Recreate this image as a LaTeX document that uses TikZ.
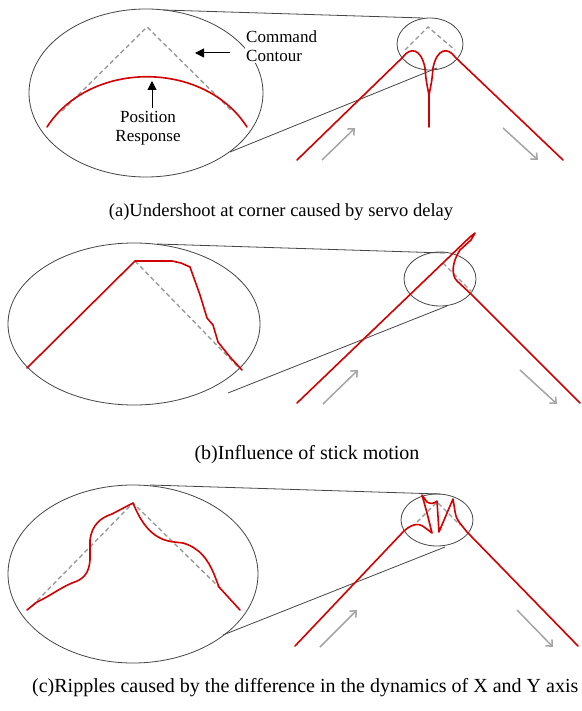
\documentclass[tikz,border=0pt]{standalone}
\usepackage{fontspec}
\setmainfont{Liberation Serif}
\usetikzlibrary{arrows.meta}
\definecolor{redc}{RGB}{210,0,0}
\definecolor{ellc}{RGB}{70,70,70}
\definecolor{dashc}{RGB}{155,155,155}
\definecolor{arrc}{RGB}{165,165,165}
\tikzset{
  resp/.style={draw=redc, line width=1.6pt, line join=round, line cap=round},
  cmd/.style={draw=dashc, line width=1.4pt, dash pattern=on 4.5pt off 3pt},
  lens/.style={draw=ellc, line width=0.8pt},
  conn/.style={draw=ellc, line width=0.8pt},
  dirarrow/.style={draw=arrc, line width=1.5pt, -{Straight Barb[length=5pt,width=9pt]}},
  labarrow/.style={draw=black, line width=1pt, -{Triangle[length=9pt,width=9pt]}},
  lab/.style={font=\fontsize{17}{19}\selectfont, align=left, inner sep=1pt},
  captext/.style={font=\fontsize{18.5}{21}\selectfont, inner sep=0pt},
  captextb/.style={font=\fontsize{20}{22}\selectfont, inner sep=0pt}
}
\begin{document}
\begin{tikzpicture}[x=1pt,y=-1pt]
\useasboundingbox[fill=white] (0,0) rectangle (581,711);

% ================= (a) =================
\draw[lens] (146,93) ellipse [x radius=117, y radius=84];
\draw[lens] (430,44) ellipse [x radius=33, y radius=26];
\coordinate (aBT) at (163,10);
\coordinate (aST) at (423,18);
\coordinate (aBB) at (230,152);
\coordinate (aSB) at (437,68);
\draw[conn] (aBT) -- (aST);
\draw[conn] (aBB) -- (aSB);
% magnified
\draw[cmd] (62,111) -- (147,27) -- (232,111);
\draw[resp] (47,127) .. controls (90,60) and (204,60) .. (247,127);
% small
\draw[cmd] (405,50) -- (428,27) -- (455,50);
\draw[resp] (297,160) -- (403,57) .. controls (410,47) and (421,48) .. (425,68)
  .. controls (426,80) .. (429,95) -- (429,127);
\draw[resp] (429,95) .. controls (432,80) .. (433,68)
  .. controls (437,48) and (448,47) .. (455,57) -- (563,160);
\coordinate (aL1) at (322,160); \coordinate (aL2) at (355,128);
\coordinate (aR1) at (503,128); \coordinate (aR2) at (538,160);
\draw[dirarrow] (aL1) -- (aL2);
\draw[dirarrow] (aR1) -- (aR2);
% labels
\node[lab, fill=white, anchor=north west] (cmdlab) at (245,30) {Command\\Contour};
\coordinate (ca1) at (230,53); \coordinate (ca2) at (195,53);
\draw[labarrow] (ca1) -- (ca2);
\node[lab, align=center] (poslab) at (148,128) {Position\\Response};
\coordinate (pa1) at (152,108); \coordinate (pa2) at (152,81);
\draw[labarrow] (pa1) -- (pa2);
\node[captext] (capa) at (281,212) {(a)Undershoot at corner caused by servo delay};

% ================= (b) =================
\draw[lens] (134,324) ellipse [x radius=126, y radius=81];
\draw[lens] (440,279) ellipse [x radius=36, y radius=27];
\coordinate (bBT) at (157,244);
\coordinate (bST) at (445,253);
\coordinate (bBB) at (228,393);
\coordinate (bSB) at (447,306);
\draw[conn] (bBT) -- (bST);
\draw[conn] (bBB) -- (bSB);
\draw[cmd] (135,261) -- (240,369);
\draw[resp] (27,368) -- (135,261) -- (172,261) -- (181,263) -- (190,267)
  -- (200,295) -- (207,318) -- (213,325) -- (218,342) -- (230,357) -- (242,370);
\draw[cmd] (443,263) -- (472,292);
\draw[resp] (297,403) -- (470,237) -- (475,233) -- (471,240) -- (460,250)
  .. controls (452,262) and (451,275) .. (457,281) -- (472,295) -- (580,403);
\coordinate (bL1) at (323,404); \coordinate (bL2) at (358,370);
\coordinate (bR1) at (520,370); \coordinate (bR2) at (557,404);
\draw[dirarrow] (bL1) -- (bL2);
\draw[dirarrow] (bR1) -- (bR2);
\node[captextb] (capb) at (307,455) {(b)Influence of stick motion};

% ================= (c) =================
\draw[lens] (133,574) ellipse [x radius=125, y radius=89];
\draw[lens] (437,520) ellipse [x radius=36, y radius=26];
\coordinate (cBT) at (150,485);
\coordinate (cST) at (440,494);
\coordinate (cBB) at (223,635);
\coordinate (cSB) at (445,547);
\draw[conn] (cBT) -- (cST);
\draw[conn] (cBB) -- (cSB);
\draw[cmd] (32,606) -- (133,503) -- (222,590);
\draw[resp] (27,610) -- (37,602) .. controls (50,596) and (60,588) .. (72,583)
  .. controls (85,579) and (89,572) .. (90,560) -- (90,540)
  .. controls (92,525) and (100,518) .. (112,514) -- (133,503)
  .. controls (140,520) and (148,532) .. (160,538)
  .. controls (168,542) and (175,542) .. (183,543)
  .. controls (200,548) and (208,560) .. (214,574) -- (219,587) -- (240,610);
\draw[cmd] (417,522) -- (437,502) -- (460,525);
\draw[resp] (295,646) -- (403,532) .. controls (410,525) and (418,522) .. (424,527)
  -- (432,533) -- (427,513) -- (422,495) -- (427,502)
  .. controls (430,504) and (434,504) .. (437,501)
  -- (439,532) -- (447,513) -- (453,499) .. controls (455,510) and (455,517) .. (459,522)
  -- (467,532) -- (578,646);
\coordinate (cL1) at (320,647); \coordinate (cL2) at (357,610);
\coordinate (cR1) at (517,610); \coordinate (cR2) at (553,647);
\draw[dirarrow] (cL1) -- (cL2);
\draw[dirarrow] (cR1) -- (cR2);
\node[captextb, anchor=west] (capc) at (32,688) {(c)Ripples caused by the difference in the dynamics of X and Y axis};
\end{tikzpicture}
\end{document}
